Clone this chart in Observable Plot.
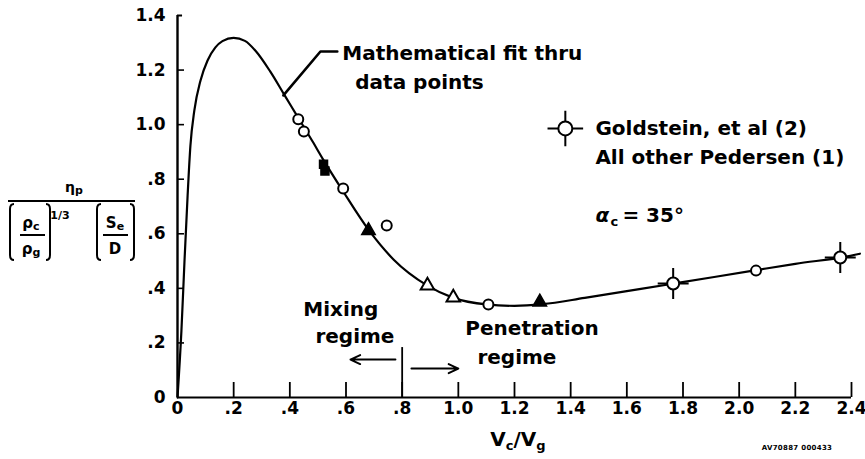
<!DOCTYPE html>
<html>
<head>
<meta charset="utf-8">
<script src="https://cdn.jsdelivr.net/npm/d3@7"></script>
<script src="https://cdn.jsdelivr.net/npm/@observablehq/plot@0.6"></script>
<style>
  html, body { margin: 0; padding: 0; background: white; }
  #chart { width: 865px; height: 459px; }
</style>
</head>
<body>
<div id="chart"></div>
<script>
// ---- Data ----
const xTicks = [0, 0.2, 0.4, 0.6, 0.8, 1.0, 1.2, 1.4, 1.6, 1.8, 2.0, 2.2, 2.4];
const xTickLabels = ["0", ".2", ".4", ".6", ".8", "1.0", "1.2", "1.4", "1.6", "1.8", "2.0", "2.2", "2.4"];
const yTicks = [0, 0.2, 0.4, 0.6, 0.8, 1.0, 1.2, 1.4];
const yTickLabels = ["0", ".2", ".4", ".6", ".8", "1.0", "1.2", "1.4"];

// Mathematical fit curve (x = Vc/Vg, y = ratio)
const fitX = [0, 0.014, 0.025, 0.036, 0.046, 0.06, 0.082, 0.107, 0.135, 0.16, 0.2, 0.24, 0.28, 0.33, 0.38, 0.43, 0.48, 0.52, 0.59, 0.68, 0.77, 0.89, 0.98, 1.1, 1.2, 1.3, 1.45, 1.65, 1.77, 2.05, 2.2, 2.4, 2.43];
const fitY = [0, 0.245, 0.502, 0.74, 0.923, 1.052, 1.162, 1.235, 1.283, 1.306, 1.318, 1.307, 1.268, 1.195, 1.11, 1.025, 0.94, 0.87, 0.755, 0.615, 0.505, 0.41, 0.366, 0.341, 0.336, 0.342, 0.365, 0.398, 0.418, 0.465, 0.49, 0.52, 0.527];

// Pedersen data: open circles
const circX = [0.43, 0.45, 0.59, 0.745, 1.107, 2.06];
const circY = [1.02, 0.975, 0.766, 0.63, 0.341, 0.465];
// open triangles
const triX = [0.89, 0.982];
const triY = [0.41, 0.366];
// filled squares
const sqX = [0.52, 0.525];
const sqY = [0.855, 0.83];
// filled triangles
const ftriX = [0.68, 1.29];
const ftriY = [0.612, 0.35];
// Goldstein et al (circle with ticks)
const goldX = [1.765, 2.36];
const goldY = [0.418, 0.513];

// Annotations (data coordinates)
const legendSymX = [1.381], legendSymY = [0.986];
const noteText = ["Mathematical fit thru", "data points", "Goldstein, et al (2)", "All other Pedersen (1)", "Mixing", "regime", "Penetration", "regime"];
const noteX = [0.587, 0.633, 1.488, 1.488, 0.448, 0.491, 1.025, 1.068];
const noteY = [1.262, 1.154, 0.986, 0.879, 0.322, 0.224, 0.253, 0.147];
const leaderX = [0.569, 0.509, 0.377];
const leaderY = [1.268, 1.268, 1.107];
const regimeLineX = 0.8, regimeLineTop = 0.183;
const arrowLeft = {x1: 0.776, x2: 0.616, y: 0.139};
const arrowRight = {x1: 0.833, x2: 1.0, y: 0.106};

// ---- Build tables ----
const zip = (xs, ys) => xs.map((x, i) => ({x, y: ys[i]}));
const fit = zip(fitX, fitY);
const circles = zip(circX, circY);
const tris = zip(triX, triY);
const squares = zip(sqX, sqY);
const ftris = zip(ftriX, ftriY);
const gold = zip(goldX, goldY);
const legendSym = zip(legendSymX, legendSymY);
const notes = noteText.map((t, i) => ({t, x: noteX[i], y: noteY[i]}));
const leader = zip(leaderX, leaderY);

const font = "DejaVu Sans";

const svg = Plot.plot({
  width: 865,
  height: 459,
  marginLeft: 177,
  marginRight: 14,
  marginTop: 15,
  marginBottom: 62,
  x: {domain: [0, 2.4]},
  y: {domain: [0, 1.4]},
  style: {fontFamily: font, fontWeight: "bold", background: "white", color: "black", overflow: "visible"},
  marks: [
    Plot.axisX(xTicks, {tickSize: 0, tickPadding: 4, fontSize: 17, fontWeight: "bold",
      tickFormat: d => xTickLabels[xTicks.indexOf(d)], label: null}),
    Plot.axisY(yTicks, {tickSize: 0, tickPadding: 12, fontSize: 17, fontWeight: "bold",
      tickFormat: d => yTickLabels[yTicks.indexOf(d)], label: null}),
    // frame lines
    Plot.ruleY([0], {x1: 0, x2: 2.4, strokeWidth: 2}),
    Plot.ruleX([0], {y1: 0, y2: 1.4, strokeWidth: 2.4}),
    Plot.ruleY([1.4], {x1: 0, x2: 0.018, strokeWidth: 2}),
    // inward ticks
    Plot.ruleY(yTicks.filter(d => d > 0 && d < 1.4), {x1: 0, x2: 0.025, strokeWidth: 1.6}),
    Plot.ruleX(xTicks.filter(d => d > 0), {y1: 0, y2: 0.055, strokeWidth: 1.8}),
    // fit curve
    Plot.line(fit, {x: "x", y: "y", curve: "monotone-x", strokeWidth: 2.2, stroke: "black"}),
    // leader line for annotation
    Plot.line(leader, {x: "x", y: "y", strokeWidth: 2.6, stroke: "black"}),
    // regime divider & arrows
    Plot.ruleX([regimeLineX], {y1: 0, y2: regimeLineTop, strokeWidth: 1.8}),
    Plot.arrow([arrowLeft], {x1: "x1", x2: "x2", y1: "y", y2: "y", strokeWidth: 2, headLength: 8, headAngle: 50}),
    Plot.arrow([arrowRight], {x1: "x1", x2: "x2", y1: "y", y2: "y", strokeWidth: 2, headLength: 8, headAngle: 50}),
    // data points
    Plot.dot(circles, {x: "x", y: "y", r: 5, fill: "white", stroke: "black", strokeWidth: 2}),
    Plot.dot(tris, {x: "x", y: "y", symbol: "triangle", r: 5, fill: "white", stroke: "black", strokeWidth: 2}),
    Plot.dot(squares, {x: "x", y: "y", symbol: "square", r: 4.5, fill: "black", stroke: "black"}),
    Plot.dot(ftris, {x: "x", y: "y", symbol: "triangle", r: 5, fill: "black", stroke: "black"}),
    Plot.dot(gold, {x: "x", y: "y", symbol: "plus", r: 10, stroke: "black", strokeWidth: 2}),
    Plot.dot(gold, {x: "x", y: "y", r: 6, fill: "white", stroke: "black", strokeWidth: 2}),
    // legend symbol
    Plot.dot(legendSym, {x: "x", y: "y", symbol: "plus", r: 11.5, stroke: "black", strokeWidth: 2}),
    Plot.dot(legendSym, {x: "x", y: "y", r: 7, fill: "white", stroke: "black", strokeWidth: 2}),
    // text annotations
    Plot.text(notes, {x: "x", y: "y", text: "t", textAnchor: "start", lineAnchor: "middle",
      fontSize: 20, fontWeight: "bold", fill: "black"}),
    // alpha_c = 35°
    Plot.text([{x: 1.488, y: 0.665}], {x: "x", y: "y", text: () => "α", textAnchor: "start", lineAnchor: "middle", fontSize: 20, fontWeight: "bold", fontStyle: "italic"}),
    Plot.text([{x: 1.488, y: 0.665}], {x: "x", y: "y", text: () => "c", dx: 15, dy: 6, textAnchor: "start", lineAnchor: "middle", fontSize: 13, fontWeight: "bold"}),
    Plot.text([{x: 1.488, y: 0.665}], {x: "x", y: "y", text: () => "= 35°", dx: 27, textAnchor: "start", lineAnchor: "middle", fontSize: 20, fontWeight: "bold"})
  ]
});

document.getElementById("chart").appendChild(svg);

// ---- Composite axis labels (text with sub/superscripts) ----
const s = d3.select(svg);
const g = s.append("g").attr("font-family", font).attr("font-weight", "bold").attr("fill", "black");

// x-axis title: Vc / Vg
const xt = g.append("text").attr("x", 518).attr("y", 446).attr("font-size", 20).attr("text-anchor", "middle");
xt.append("tspan").text("V");
xt.append("tspan").attr("font-size", 13).attr("dy", 4).text("c");
xt.append("tspan").attr("dy", -4).text("/");
xt.append("tspan").text("V");
xt.append("tspan").attr("font-size", 13).attr("dy", 4).text("g");

// y-axis title: eta_p / [ (rho_c/rho_g)^(1/3) (S_e/D) ]
g.append("line").attr("x1", 8).attr("x2", 135).attr("y1", 201).attr("y2", 201).attr("stroke", "black").attr("stroke-width", 2);
const eta = g.append("text").attr("x", 74).attr("y", 192).attr("font-size", 14).attr("text-anchor", "middle");
eta.append("tspan").text("η");
eta.append("tspan").attr("font-size", 11).attr("dy", 2).text("p");

function bracket(x, top, bottom, dir) {
  const h = 4 * dir;
  g.append("path")
    .attr("d", `M${x + h},${top} Q${x},${top} ${x},${top + 5} L${x},${bottom - 5} Q${x},${bottom} ${x + h},${bottom}`)
    .attr("fill", "none").attr("stroke", "black").attr("stroke-width", 2);
}
bracket(10, 204, 260, 1);
bracket(50, 204, 260, -1);
bracket(97, 204, 260, 1);
bracket(134, 204, 260, -1);

function frac(cx, num, numSub, den, denSub, x1, x2) {
  const t1 = g.append("text").attr("x", cx).attr("y", 228).attr("font-size", 15).attr("text-anchor", "middle");
  t1.append("tspan").text(num);
  if (numSub) t1.append("tspan").attr("font-size", 11).attr("dy", 2).text(numSub);
  g.append("line").attr("x1", x1).attr("x2", x2).attr("y1", 235).attr("y2", 235).attr("stroke", "black").attr("stroke-width", 2);
  const t2 = g.append("text").attr("x", cx).attr("y", 254).attr("font-size", 15).attr("text-anchor", "middle");
  t2.append("tspan").text(den);
  if (denSub) t2.append("tspan").attr("font-size", 11).attr("dy", 2).text(denSub);
}
frac(31, "ρ", "c", "ρ", "g", 20, 45);
frac(115, "S", "e", "D", null, 103, 128);
g.append("text").attr("x", 60).attr("y", 219).attr("font-size", 11).text("1/3");

// scanner reference stamp
g.append("text").attr("x", 797).attr("y", 450).attr("font-size", 7).attr("letter-spacing", 0.3).text("AV70887 000433");
</script>
</body>
</html>
